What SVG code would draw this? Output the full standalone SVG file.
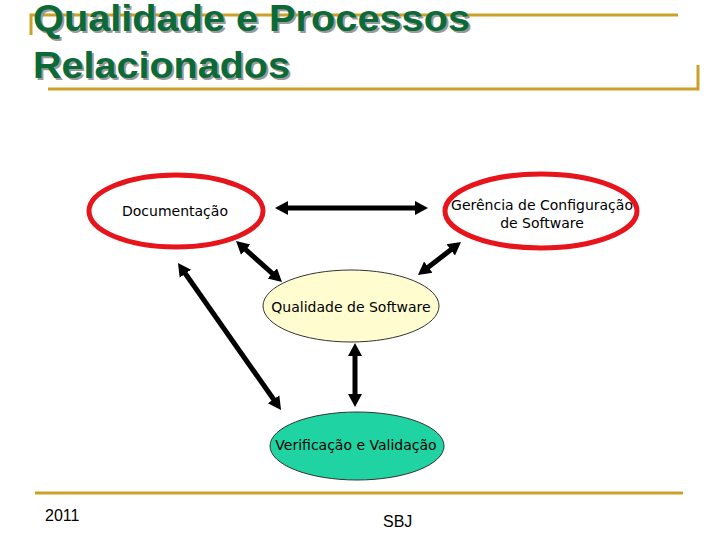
<svg xmlns="http://www.w3.org/2000/svg" width="720" height="540" viewBox="0 0 720 540">
<defs>
<style>
.gold{stroke:#C9A227;stroke-width:3;fill:none}
.title{font-family:"Liberation Sans",Arial,sans-serif;font-weight:bold;font-size:37px}
.lbl{font-family:"DejaVu Sans",Verdana,sans-serif;font-size:14px;fill:#000;text-anchor:middle}
.foot{font-family:"Liberation Sans",Arial,sans-serif;font-size:16px;fill:#000}
.red{fill:#fff;stroke:#E8141C;stroke-width:5}
.conn{stroke:#000;stroke-width:5;fill:none;marker-start:url(#ah);marker-end:url(#ah)}
</style>
<marker id="ah" markerUnits="userSpaceOnUse" viewBox="0 -8 14 16" markerWidth="14" markerHeight="16" refX="3" refY="0" orient="auto-start-reverse">
<path d="M0,-7 L13,0 L0,7 z" fill="#000"/>
</marker>
</defs>
<rect width="720" height="540" fill="#fff"/>
<g id="title-deco">
<path class="gold" d="M31,35 V15 H678"/>
<path class="gold" d="M48,89 H698 V65"/>
<text class="title" x="35" y="33" fill="#9a9a9a" textLength="437" lengthAdjust="spacingAndGlyphs">Qualidade e Processos</text>
<text class="title" x="33" y="31" fill="#0B6A37" textLength="437" lengthAdjust="spacingAndGlyphs">Qualidade e Processos</text>
<text class="title" x="35" y="80" fill="#9a9a9a" textLength="257" lengthAdjust="spacingAndGlyphs">Relacionados</text>
<text class="title" x="33" y="78" fill="#0B6A37" textLength="257" lengthAdjust="spacingAndGlyphs">Relacionados</text>
</g>
<g id="connectors">
<line class="conn" x1="285" y1="208" x2="418" y2="208"/>
<line class="conn" x1="243.5" y1="247.7" x2="274.5" y2="275.3"/>
<line class="conn" x1="425.9" y1="268.9" x2="453.1" y2="248.1"/>
<line class="conn" x1="183.7" y1="271.2" x2="275.3" y2="401.8"/>
<line class="conn" x1="355" y1="353" x2="355" y2="397"/>
</g>
<g id="documentacao">
<ellipse class="red" cx="176" cy="211" rx="87" ry="36"/>
<text class="lbl" x="175" y="216">Documentação</text>
</g>
<g id="gerencia">
<ellipse class="red" cx="541" cy="211" rx="96" ry="37"/>
<text class="lbl" x="542" y="210">Gerência de Configuração</text>
<text class="lbl" x="542" y="228">de Software</text>
</g>
<g id="qualidade">
<ellipse cx="351" cy="306" rx="88" ry="36" fill="#FFFDD0" stroke="#333" stroke-width="1"/>
<text class="lbl" x="351" y="312">Qualidade de Software</text>
</g>
<g id="verificacao">
<ellipse cx="357" cy="446" rx="87" ry="34" fill="#1FD3A2" stroke="#333" stroke-width="1"/>
<text class="lbl" x="356" y="450">Verificação e Validação</text>
</g>
<g id="footer">
<path class="gold" d="M35,493 H683"/>
<text class="foot" x="45" y="521">2011</text>
<text class="foot" x="383" y="527">SBJ</text>
</g>
</svg>
